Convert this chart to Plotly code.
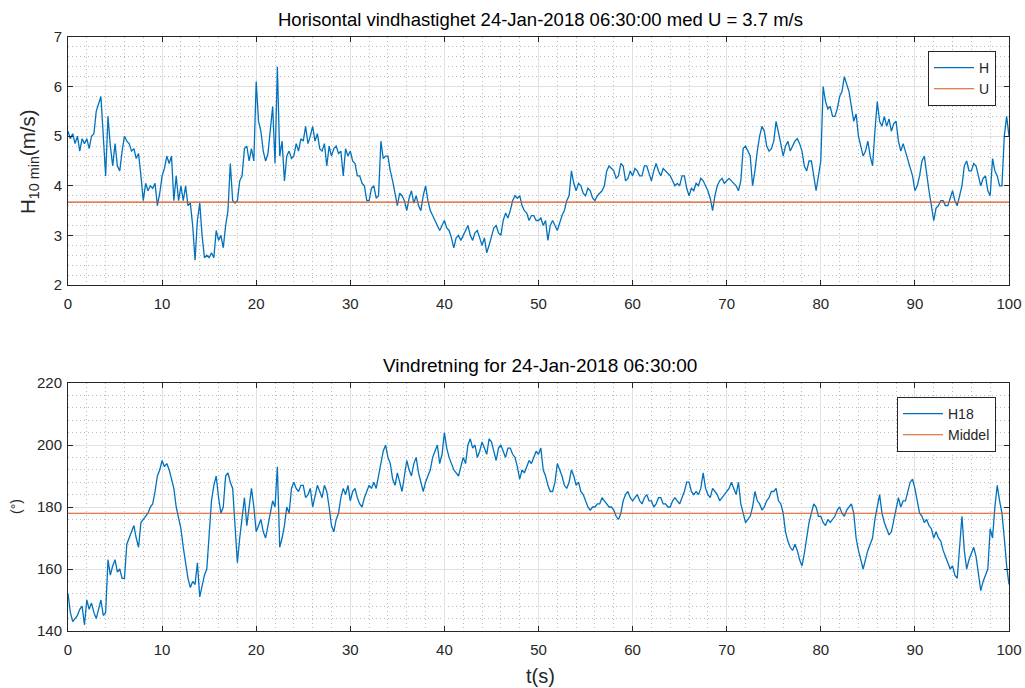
import numpy as np
import plotly.graph_objects as go

# time axis (s), 0.25 s resolution
t = [i * 0.25 for i in range(401)]

# Horizontal wind speed H (m/s) (4 samples per second)
H = [
    5.10, 4.95, 5.05, 4.85,
    5.00, 4.70, 4.95, 4.85,
    4.95, 4.75, 5.00, 5.05,
    5.50, 5.65, 5.80, 5.00,
    4.20, 5.40, 4.80, 4.40,
    4.85, 4.40, 4.30, 4.70,
    5.00, 4.90, 4.85, 4.70,
    4.75, 4.55, 4.65, 4.20,
    3.70, 4.05, 3.90, 4.00,
    3.95, 4.05, 3.60, 3.85,
    4.20, 4.35, 4.60, 4.45,
    4.60, 3.70, 4.20, 3.70,
    4.00, 3.70, 4.00, 3.60,
    3.65, 3.20, 2.50, 3.30,
    3.65, 3.00, 2.55, 2.60,
    2.55, 2.65, 2.55, 3.10,
    2.90, 3.00, 2.75, 3.20,
    3.50, 4.45, 3.70, 3.65,
    3.70, 4.10, 4.20, 4.75,
    4.80, 4.50, 4.75, 4.50,
    6.10, 5.30, 5.10, 4.70,
    4.50, 4.65, 5.10, 5.60,
    4.45, 6.40, 4.60, 4.90,
    4.10, 4.60, 4.70, 4.55,
    4.60, 4.85, 4.70, 4.95,
    4.90, 5.20, 4.85, 5.00,
    5.20, 4.90, 5.05, 4.75,
    4.70, 4.85, 4.40, 4.80,
    4.60, 4.75, 4.80, 4.65,
    4.70, 4.20, 4.75, 4.60,
    4.70, 4.50, 4.45, 4.20,
    4.20, 4.05, 4.00, 3.70,
    3.70, 3.95, 4.00, 3.75,
    3.80, 4.90, 4.55, 4.60,
    4.60, 4.30, 4.10, 3.85,
    3.60, 3.85, 3.80, 3.70,
    3.50, 3.75, 3.90, 3.65,
    3.80, 3.60, 3.50, 3.80,
    4.00, 3.70, 3.50, 3.40,
    3.30, 3.20, 3.10, 3.20,
    3.30, 3.15, 3.10, 2.95,
    2.75, 2.95, 3.00, 2.90,
    3.00, 3.10, 3.20, 3.00,
    2.90, 3.05, 3.10, 2.95,
    2.80, 2.95, 2.65, 2.80,
    3.00, 3.15, 3.20, 3.05,
    3.00, 3.30, 3.45, 3.35,
    3.50, 3.70, 3.80, 3.75,
    3.80, 3.60, 3.50, 3.45,
    3.30, 3.40, 3.40, 3.30,
    3.30, 3.35, 3.20, 3.30,
    2.90, 3.20, 3.30, 3.20,
    3.10, 3.25, 3.40, 3.50,
    3.70, 3.80, 4.30, 4.05,
    3.90, 4.05, 4.00, 3.85,
    3.80, 3.95, 3.90, 3.75,
    3.70, 3.80, 3.85, 3.90,
    4.00, 4.30, 4.40, 4.35,
    4.30, 4.15, 4.20, 4.45,
    4.40, 4.10, 4.15, 4.30,
    4.20, 4.35, 4.30, 4.20,
    4.20, 4.40, 4.40, 4.25,
    4.10, 4.30, 4.45, 4.30,
    4.20, 4.35, 4.30, 4.25,
    4.20, 4.10, 4.00, 4.05,
    4.00, 4.20, 4.20, 3.95,
    3.80, 3.95, 3.90, 4.05,
    4.00, 4.15, 4.10, 4.00,
    3.90, 3.75, 3.50, 3.80,
    4.00, 4.10, 4.15, 4.05,
    4.10, 4.15, 4.10, 4.05,
    4.00, 3.90, 4.10, 4.75,
    4.80, 4.70, 4.60, 4.00,
    4.30, 4.70, 5.00, 5.20,
    5.10, 4.80, 4.70, 4.75,
    4.90, 5.30, 5.10, 4.85,
    4.60, 4.80, 4.90, 4.70,
    4.80, 4.90, 4.95, 4.85,
    4.70, 4.40, 4.30, 4.50,
    4.50, 4.20, 3.90, 4.20,
    4.50, 6.00, 5.70, 5.55,
    5.60, 5.40, 5.40, 5.55,
    5.80, 5.90, 6.20, 6.05,
    5.90, 5.60, 5.30, 5.45,
    5.00, 4.80, 4.60, 4.70,
    4.90, 4.60, 4.40, 5.10,
    5.70, 5.30, 5.20, 5.40,
    5.20, 5.35, 5.10, 5.25,
    5.30, 4.90, 4.70, 4.85,
    4.70, 4.50, 4.40, 4.20,
    3.90, 4.00, 4.20, 4.50,
    4.60, 4.20, 3.90, 3.60,
    3.30, 3.55, 3.60, 3.70,
    3.70, 3.60, 3.60, 3.75,
    3.90, 3.70, 3.60, 3.80,
    4.00, 4.40, 4.50, 4.30,
    4.30, 4.45, 4.40, 4.20,
    4.00, 4.15, 4.20, 3.90,
    3.80, 4.55, 4.30, 4.20,
    4.00, 4.00, 5.00, 5.40,
    5.00,
]
U_mean = 3.67

# Wind direction H18 (degrees)
D = [
    152, 146, 143, 144,
    145, 147, 148, 142,
    150, 147, 149, 146,
    144, 147, 150, 145,
    146, 163, 158, 161,
    163, 159, 160, 157,
    157, 168, 170, 172,
    174, 170, 167, 175,
    176, 177, 178, 180,
    181, 185, 190, 192,
    195, 193, 194, 192,
    189, 186, 180, 176,
    173, 167, 162, 157,
    154, 156, 155, 162,
    151, 155, 158, 160,
    172, 182, 187, 190,
    183, 178, 180, 190,
    191, 188, 186, 175,
    162, 170, 177, 183,
    174, 180, 186, 180,
    172, 174, 176, 172,
    170, 174, 178, 182,
    180, 193, 167, 170,
    174, 180, 178, 186,
    188, 186, 185, 187,
    187, 183, 184, 186,
    180, 184, 187, 185,
    183, 187, 185, 180,
    174, 172, 176, 178,
    183, 186, 184, 187,
    182, 185, 186, 183,
    181, 180, 183, 185,
    187, 186, 188, 186,
    190, 195, 198, 200,
    196, 194, 189, 187,
    191, 188, 185, 190,
    195, 192, 190, 194,
    196, 191, 188, 185,
    188, 190, 192, 196,
    198, 200, 194, 197,
    204, 199, 196, 194,
    192, 191, 190, 193,
    196, 194, 200, 202,
    199, 200, 196, 198,
    201, 199, 197, 202,
    201, 198, 195, 199,
    200, 198, 196, 199,
    199, 197, 196, 193,
    189, 192, 191, 193,
    195, 194, 196, 198,
    197, 199, 192, 190,
    187, 185, 185, 188,
    194, 192, 190, 187,
    186, 188, 192, 190,
    187, 188, 185, 184,
    182, 180, 179, 180,
    180, 181, 181, 183,
    182, 181, 180, 180,
    179, 177, 176, 178,
    182, 184, 185, 183,
    182, 183, 184, 182,
    181, 183, 184, 182,
    182, 180, 181, 183,
    183, 181, 181, 180,
    180, 182, 183, 182,
    181, 183, 185, 188,
    188, 185, 184, 185,
    184, 186, 191, 186,
    184, 183, 186, 185,
    184, 182, 183, 184,
    185, 186, 188, 186,
    184, 188, 181, 178,
    175, 176, 177, 180,
    185, 182, 181, 179,
    180, 182, 183, 185,
    185, 186, 182, 181,
    178, 172, 169, 167,
    166, 168, 166, 163,
    161, 165, 170, 175,
    178, 181, 180, 177,
    177, 175, 174, 176,
    175, 176, 177, 179,
    180, 178, 177, 179,
    180, 181, 178, 170,
    166, 163, 160, 163,
    166, 168, 170, 176,
    180, 184, 178, 175,
    173, 171, 172, 176,
    180, 183, 180, 182,
    182, 185, 188, 189,
    186, 182, 178, 177,
    175, 176, 174, 173,
    170, 172, 170, 169,
    166, 164, 162, 160,
    161, 158, 157, 168,
    177, 166, 160, 163,
    165, 167, 164, 158,
    153, 156, 158, 160,
    173, 170, 180, 187,
    182, 178, 170, 161,
    155,
]
D_mean = 178.0

title1 = "Horisontal vindhastighet 24-Jan-2018 06:30:00 med U = 3.7 m/s"
title2 = "Vindretning for 24-Jan-2018 06:30:00"

W, Hpx = 1025, 688
BLUE = "#0072BD"
ORANGE = "#D95319"
AX = "#262626"
FONT = "Liberation Sans, Arial, Helvetica, sans-serif"

def px_x(p):
    return p / W

def px_y(p):
    return 1 - p / Hpx

fig = go.Figure()
fig.add_trace(go.Scatter(x=t, y=H, mode="lines", name="H",
                         line=dict(color=BLUE, width=1.3),
                         xaxis="x", yaxis="y", legend="legend"))
fig.add_trace(go.Scatter(x=[t[0], t[-1]], y=[U_mean, U_mean], mode="lines", name="U",
                         line=dict(color=ORANGE, width=1.1),
                         xaxis="x", yaxis="y", legend="legend"))
fig.add_trace(go.Scatter(x=t, y=D, mode="lines", name="H18",
                         line=dict(color=BLUE, width=1.3),
                         xaxis="x2", yaxis="y2", legend="legend2"))
fig.add_trace(go.Scatter(x=[t[0], t[-1]], y=[D_mean, D_mean], mode="lines", name="Middel",
                         line=dict(color=ORANGE, width=1.1),
                         xaxis="x2", yaxis="y2", legend="legend2"))

MINOR = dict(showgrid=True, gridcolor="#bcbcbc", griddash="1px,3px", gridwidth=1)
common = dict(
    showline=True, linecolor=AX, linewidth=1, mirror="ticks",
    ticks="inside", ticklen=5, tickcolor=AX, tickwidth=1,
    showgrid=True, gridcolor="#e0e0e0", gridwidth=1,
    zeroline=False, automargin=False,
    tickfont=dict(family=FONT, size=15, color=AX),
)
xcommon = dict(common, ticklabelstandoff=5)
ycommon = dict(common, ticklabelstandoff=2)
xdom = [px_x(68), px_x(1009)]

fig.update_layout(
    width=W, height=Hpx,
    margin=dict(l=0, r=0, t=0, b=0, pad=0, autoexpand=False),
    paper_bgcolor="white", plot_bgcolor="white",
    font=dict(family=FONT, color=AX),
    xaxis=dict(domain=xdom, range=[0, 100], dtick=10, anchor="y",
               minor=dict(dtick=2, **MINOR), **xcommon),
    yaxis=dict(domain=[px_y(285), px_y(37)], range=[2, 7], dtick=1, anchor="x",
               minor=dict(dtick=0.2, **MINOR), **ycommon),
    xaxis2=dict(domain=xdom, range=[0, 100], dtick=10, anchor="y2",
                minor=dict(dtick=2, **MINOR), **xcommon),
    yaxis2=dict(domain=[px_y(631), px_y(383)], range=[140, 220], dtick=20, anchor="x2",
                minor=dict(dtick=4, **MINOR), **ycommon),
    legend=dict(x=px_x(996), y=px_y(51), xanchor="right", yanchor="top",
                bgcolor="white", bordercolor=AX, borderwidth=1,
                font=dict(family=FONT, size=14, color=AX),
                tracegroupgap=0, itemwidth=40),
    legend2=dict(x=px_x(996), y=px_y(397), xanchor="right", yanchor="top",
                 bgcolor="white", bordercolor=AX, borderwidth=1,
                 font=dict(family=FONT, size=14, color=AX),
                 tracegroupgap=0, itemwidth=40),
    showlegend=True,
    annotations=[
        dict(text=title1, x=px_x(540), y=px_y(19), xref="paper", yref="paper",
             xanchor="center", yanchor="middle", showarrow=False,
             font=dict(family=FONT, size=18.5, color="#000000")),
        dict(text=title2, x=px_x(540), y=px_y(366), xref="paper", yref="paper",
             xanchor="center", yanchor="middle", showarrow=False,
             font=dict(family=FONT, size=19, color="#000000")),
        dict(text="H<sub>10 min</sub>(m/s)", x=px_x(29), y=px_y(162), xref="paper", yref="paper",
             xanchor="center", yanchor="middle", showarrow=False, textangle=-90,
             font=dict(family=FONT, size=20.5, color=AX)),
        dict(text="(°)", x=px_x(16), y=px_y(507), xref="paper", yref="paper",
             xanchor="center", yanchor="middle", showarrow=False, textangle=-90,
             font=dict(family=FONT, size=14, color=AX)),
        dict(text="t(s)", x=px_x(540), y=px_y(676), xref="paper", yref="paper",
             xanchor="center", yanchor="middle", showarrow=False,
             font=dict(family=FONT, size=20, color=AX)),
    ],
)

fig.write_html("out.html")
